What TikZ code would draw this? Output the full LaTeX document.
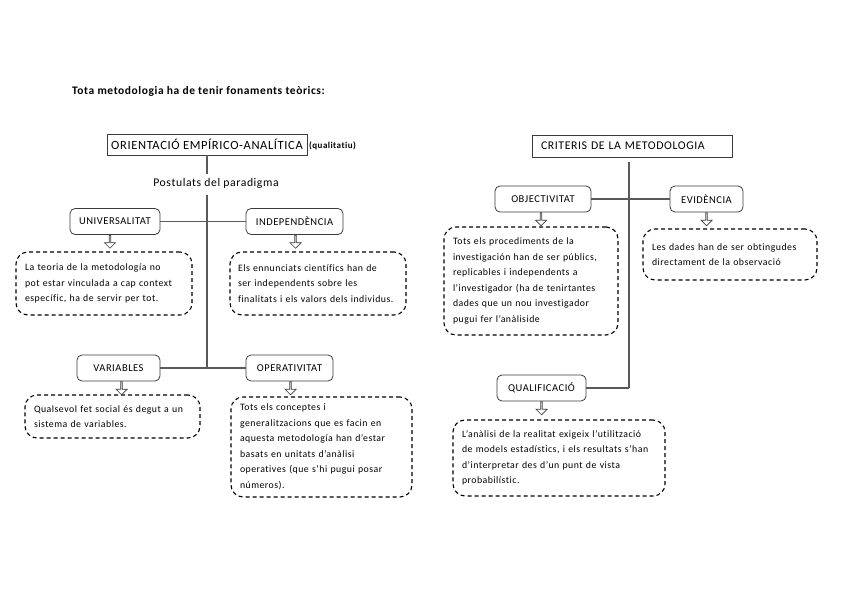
\documentclass[tikz,border=0pt]{standalone}
\usepackage{fontspec}
\setmainfont{Carlito}[LetterSpace=5,Ligatures=NoCommon]
\usepackage{tikz}
\usetikzlibrary{shapes.arrows}
\definecolor{linec}{HTML}{5A5A5A}
\definecolor{boxc}{HTML}{3C3C3C}
\tikzset{
  headbox/.style={draw=boxc,line width=0.8pt,rounded corners=5pt,font=\fontsize{10.5}{12}\selectfont,
    minimum height=26pt,inner sep=0pt},
  notebox/.style={draw=black,dashed,dash pattern=on 4pt off 3pt,line width=1.1pt,rounded corners=12pt,
    font=\fontsize{9.8}{15.5}\selectfont,align=left,inner sep=0pt},
  downarrow/.style={single arrow,draw=boxc,fill=white,line width=0.7pt,shape border rotate=270,
    minimum width=11pt,minimum height=13pt,single arrow head extend=2.5pt,inner sep=0pt,anchor=tail},
  branch/.style={linec,line width=1.2pt},
}
\begin{document}
\begin{tikzpicture}[x=1pt,y=-1pt]
  \useasboundingbox (0,0) rectangle (848,599);
  \node[font=\bfseries\fontsize{11.5}{13}\selectfont,anchor=west,inner sep=0pt] (title) at (72,91)
    {Tota metodologia ha de tenir fonaments teòrics:};

  % left side: the paradigm
  \node[draw=boxc,line width=0.8pt,minimum width=200pt,minimum height=21pt,inner sep=0pt,
    font=\fontsize{12.5}{14}\selectfont] (orient) at (207,144.5) {ORIENTACIÓ EMPÍRICO-ANALÍTICA};
  \node[font=\bfseries\fontsize{9}{10}\selectfont,anchor=west,inner sep=1pt] (qual) at (308,146) {(qualitatiu)};
  \node[font=\fontsize{11.7}{13}\selectfont] (postulats) at (216,183) {Postulats del paradigma};

  \node[headbox,minimum width=90pt] (univ) at (115,221.5) {UNIVERSALITAT};
  \node[headbox,minimum width=97pt] (indep) at (294.5,221.5) {INDEPENDÈNCIA};
  \node[headbox,minimum width=83pt] (vars) at (118.5,368) {VARIABLES};
  \node[headbox,minimum width=87pt] (operat) at (289.5,368) {OPERATIVITAT};

  \node[notebox,minimum width=176pt,minimum height=63pt,text width=158pt] (nuniv) at (104,283.5)
    {La teoria de la metodología no\\pot estar vinculada a cap context\\específic, ha de servir per tot.};
  \node[notebox,minimum width=176pt,minimum height=63pt,text width=160pt] (nindep) at (318,283.5)
    {Els ennunciats científics han de\\ser independents sobre les\\finalitats i els valors dels individus.};
  \node[notebox,minimum width=175pt,minimum height=43pt,text width=157pt] (nvars) at (112.5,416.5)
    {Qualsevol fet social és degut a un\\sistema de variables.};
  \node[notebox,minimum width=181pt,minimum height=100pt,text width=163pt] (noperat) at (321.5,447)
    {Tots els conceptes i\\generalitzacions que es facin en\\aquesta metodología han d’estar\\basats en unitats d’anàlisi\\operatives (que s’hi pugui posar\\números).};

  \node[downarrow] (auniv) at ([xshift=-5pt]univ.south) {};
  \node[downarrow] (aindep) at ([xshift=1pt]indep.south) {};
  \node[downarrow] (avars) at ([xshift=3pt]vars.south) {};
  \node[downarrow] (aoperat) at ([xshift=1pt]operat.south) {};

  \draw[branch] (orient.south) -- (orient.south |- postulats.north);
  \draw[branch] ([yshift=-3pt]orient.south |- postulats.south) -- (orient.south |- vars.east);
  \draw[branch] (univ.east) -- (indep.west);
  \draw[branch] (vars.east) -- (operat.west);

  % right side: the criteria
  \node[draw=boxc,line width=0.8pt,minimum width=200pt,minimum height=22pt,inner sep=0pt,
    text width=182pt,align=left,font=\fontsize{11.8}{13}\selectfont] (crit) at (632,146)
    {CRITERIS DE LA METODOLOGIA};
  \coordinate (top) at (629,162);

  \node[headbox,minimum width=96pt] (objec) at (543,199) {OBJECTIVITAT};
  \node[headbox,minimum width=73pt] (evid) at (706.5,199) {EVIDÈNCIA};
  \node[headbox,minimum width=89pt] (qualif) at (541.5,388) {QUALIFICACIÓ};

  \node[notebox,minimum width=174pt,minimum height=108pt,text width=156pt] (nobjec) at (531,281)
    {Tots els procediments de la\\investigación han de ser públics,\\replicables i independents a\\l’investigador (ha de tenirtantes\\dades que un nou investigador\\pugui fer l’anàliside};
  \node[notebox,minimum width=174pt,minimum height=51pt,text width=156pt] (nevid) at (730,254.5)
    {Les dades han de ser obtingudes\\directament de la observació};
  \node[notebox,minimum width=212pt,minimum height=76pt,text width=194pt] (nqualif) at (559,458)
    {L’anàlisi de la realitat exigeix l’utilització\\de models estadístics, i els resultats s’han\\d’interpretar des d’un punt de vista\\probabilístic.};

  \node[downarrow] (aobjec) at ([xshift=-2pt]objec.south) {};
  \node[downarrow] (aevid) at ([xshift=0pt]evid.south) {};
  \node[downarrow] (aqualif) at ([xshift=0pt]qualif.south) {};

  \draw[branch] (top) -- (top |- qualif.east);
  \draw[branch] (objec.east) -- (evid.west);
  \draw[branch] (qualif.east) -- (top |- qualif.east);
\end{tikzpicture}
\end{document}
